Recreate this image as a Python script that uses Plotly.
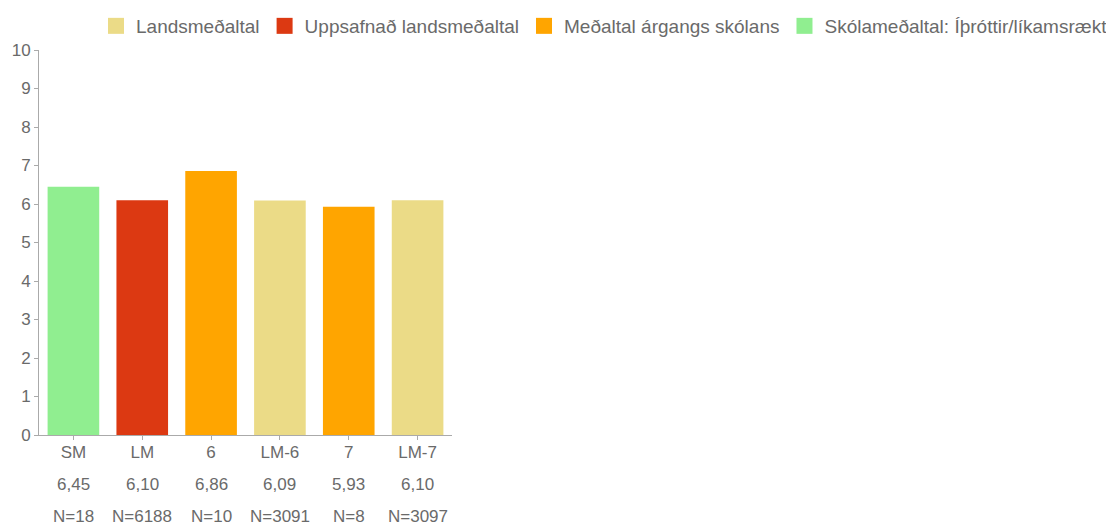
import plotly.graph_objects as go

categories = ["SM", "LM", "6", "LM-6", "7", "LM-7"]
values = [6.45, 6.10, 6.86, 6.09, 5.93, 6.10]
value_labels = ["6,45", "6,10", "6,86", "6,09", "5,93", "6,10"]
n_labels = ["N=18", "N=6188", "N=10", "N=3091", "N=8", "N=3097"]
bar_groups = ["school", "cumulative", "year", "national", "year", "national"]

legend_names = ["Landsmeðaltal", "Uppsafnað landsmeðaltal",
                "Meðaltal árgangs skólans", "Skólameðaltal: Íþróttir/líkamsrækt"]
legend_groups = ["national", "cumulative", "year", "school"]
group_colors = {"national": "#EBDB87", "cumulative": "#DC3912",
                "year": "#FFA500", "school": "#90EE90"}

FONT = "Liberation Sans, Arial, sans-serif"
GRAY = "#6a6a6a"

# The page body has an 8px default margin, so the figure is drawn 8px in.
W, H = 1106, 517
plot_l, plot_w, plot_t, plot_h = 31, 413, 42, 385
legend_right_px = 1105
legend_mid_px = 18

fig = go.Figure()
fig.add_trace(go.Bar(
    x=categories, y=values,
    marker=dict(color=[group_colors[g] for g in bar_groups], line=dict(width=0)),
    showlegend=False, hoverinfo="x+y",
))
for name, g in zip(legend_names, legend_groups):
    fig.add_trace(go.Scatter(
        x=[None], y=[None], mode="markers", name=name,
        marker=dict(symbol="square", size=20, color=group_colors[g]),
    ))

for i, (v, n) in enumerate(zip(value_labels, n_labels)):
    fig.add_annotation(x=i, xref="x", y=0, yref="paper", yshift=-49,
                       text=v, showarrow=False, yanchor="middle",
                       font=dict(family=FONT, size=17, color=GRAY))
    fig.add_annotation(x=i, xref="x", y=0, yref="paper", yshift=-81,
                       text=n, showarrow=False, yanchor="middle",
                       font=dict(family=FONT, size=17, color=GRAY))

fig.update_layout(
    width=W, height=H,
    margin=dict(l=plot_l, r=W - plot_l - plot_w, t=plot_t,
                b=H - plot_t - plot_h, autoexpand=False),
    plot_bgcolor="white", paper_bgcolor="white",
    bargap=0.25,
    font=dict(family=FONT, size=17, color=GRAY),
    legend=dict(orientation="h",
                x=(legend_right_px - plot_l) / plot_w, xanchor="right",
                y=1 + (plot_t - legend_mid_px) / plot_h, yanchor="middle",
                font=dict(family=FONT, size=19, color=GRAY),
                itemclick=False, bgcolor="rgba(0,0,0,0)"),
    xaxis=dict(type="category", showline=True, linecolor="#AAAAAA", linewidth=1,
               ticks="outside", ticklen=4, tickcolor="#AAAAAA",
               ticklabelstandoff=-2,
               showgrid=False, tickfont=dict(size=17, color=GRAY)),
    yaxis=dict(range=[0, 10], dtick=1, showline=True, linecolor="#AAAAAA",
               linewidth=1, ticks="outside", ticklen=4, tickcolor="#AAAAAA",
               showgrid=False, zeroline=False, tickfont=dict(size=17, color=GRAY)),
)

fig.write_html("out.html")
